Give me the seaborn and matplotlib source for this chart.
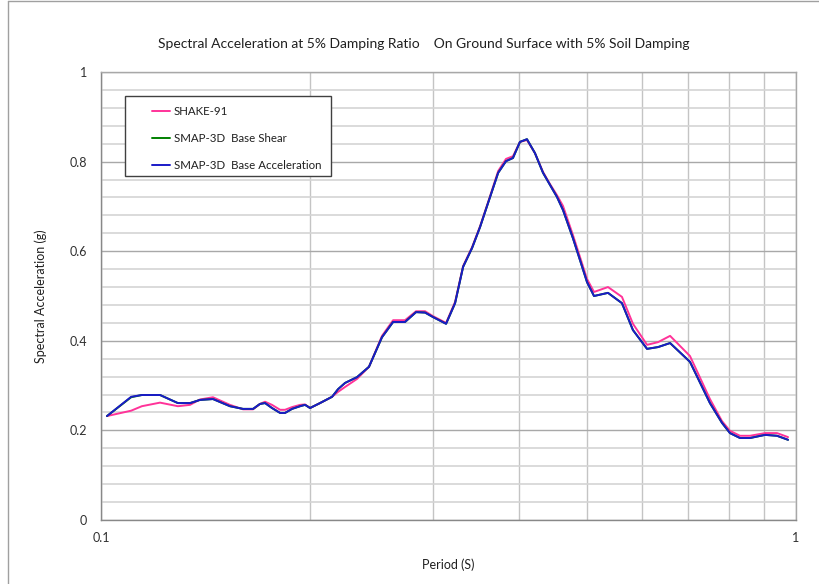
import numpy as np
import pandas as pd
import matplotlib
matplotlib.use("Agg")
import matplotlib.pyplot as plt
from matplotlib.lines import Line2D
from matplotlib.patches import Rectangle
from matplotlib.ticker import LogLocator, NullFormatter, FixedLocator
import seaborn as sns

# Periods (s) shared by all three response spectra
period = [0.102, 0.1105, 0.1145, 0.1216, 0.129, 0.1343, 0.1388, 0.1449, 0.1533, 0.1601,
          0.1655, 0.1693, 0.1722, 0.1762, 0.181, 0.184, 0.1883, 0.1934, 0.1966, 0.1999,
          0.2066, 0.215, 0.2193, 0.2245, 0.2336, 0.243, 0.2537, 0.2632, 0.2738, 0.284,
          0.2926, 0.3004, 0.3137, 0.3232, 0.3319, 0.3419, 0.3511, 0.3606, 0.3728, 0.3826,
          0.3915, 0.4007, 0.4101, 0.4211, 0.4325, 0.4426, 0.453, 0.4621, 0.4776, 0.4889,
          0.5004, 0.5121, 0.5364, 0.5618, 0.5826, 0.6105, 0.6332, 0.6589, 0.7038, 0.7519,
          0.7824, 0.8035, 0.8307, 0.8587, 0.9026, 0.939, 0.974]

# Spectral acceleration (g)
shake91 = [0.232, 0.244, 0.254, 0.262, 0.254, 0.257, 0.269, 0.274, 0.257, 0.247,
           0.247, 0.259, 0.264, 0.257, 0.246, 0.246, 0.252, 0.257, 0.258, 0.250,
           0.261, 0.275, 0.286, 0.297, 0.315, 0.342, 0.411, 0.446, 0.446, 0.466,
           0.466, 0.455, 0.440, 0.487, 0.567, 0.609, 0.656, 0.710, 0.779, 0.806,
           0.812, 0.844, 0.848, 0.819, 0.777, 0.750, 0.725, 0.701, 0.636, 0.587,
           0.538, 0.509, 0.520, 0.498, 0.438, 0.391, 0.397, 0.411, 0.366, 0.270,
           0.221, 0.199, 0.188, 0.188, 0.194, 0.194, 0.185]

smap_shear = [0.232, 0.274, 0.279, 0.279, 0.261, 0.261, 0.268, 0.270, 0.254, 0.248,
              0.248, 0.259, 0.261, 0.250, 0.239, 0.239, 0.248, 0.254, 0.257, 0.250,
              0.261, 0.275, 0.292, 0.306, 0.319, 0.342, 0.408, 0.442, 0.442, 0.464,
              0.463, 0.453, 0.438, 0.484, 0.565, 0.607, 0.654, 0.708, 0.775, 0.801,
              0.808, 0.844, 0.850, 0.819, 0.775, 0.748, 0.721, 0.692, 0.629, 0.580,
              0.531, 0.500, 0.507, 0.484, 0.424, 0.382, 0.386, 0.395, 0.353, 0.261,
              0.217, 0.194, 0.183, 0.183, 0.190, 0.188, 0.179]

smap_accel = [0.232, 0.275, 0.279, 0.279, 0.261, 0.261, 0.268, 0.270, 0.254, 0.248,
              0.248, 0.259, 0.261, 0.250, 0.239, 0.239, 0.248, 0.254, 0.257, 0.250,
              0.261, 0.275, 0.292, 0.306, 0.319, 0.342, 0.408, 0.442, 0.442, 0.464,
              0.463, 0.453, 0.438, 0.484, 0.565, 0.607, 0.654, 0.708, 0.775, 0.801,
              0.808, 0.844, 0.850, 0.819, 0.775, 0.748, 0.721, 0.692, 0.629, 0.580,
              0.531, 0.500, 0.507, 0.484, 0.424, 0.382, 0.386, 0.395, 0.353, 0.261,
              0.217, 0.194, 0.183, 0.183, 0.190, 0.188, 0.179]

series_names = ["SHAKE-91", "SMAP-3D  Base Shear", "SMAP-3D  Base Acceleration"]
series_colors = ["#FF3399", "#008000", "#1A1AC8"]

y_ticks = [0, 0.2, 0.4, 0.6, 0.8, 1.0]
y_tick_labels = ["0", "0.2", "0.4", "0.6", "0.8", "1"]
x_ticks = [0.1, 1.0]
x_tick_labels = ["0.1", "1"]

df = pd.concat([
    pd.DataFrame({"period": period, "sa": vals, "series": name})
    for name, vals in zip(series_names, [shake91, smap_shear, smap_accel])
], ignore_index=True)

sns.set_theme(style="white")
plt.rcParams["font.family"] = ["Lato", "DejaVu Sans"]

fig = plt.figure(figsize=(8.2, 5.84), dpi=100)
ax = fig.add_axes([101 / 820, 1 - 520 / 584, 695 / 820, 448 / 584])

sns.lineplot(data=df, x="period", y="sa", hue="series", hue_order=series_names,
             palette=dict(zip(series_names, series_colors)), sort=False,
             estimator=None, linewidth=1.4, legend=False, ax=ax, zorder=4)

ax.set_xscale("log")
ax.set_xlim(0.1, 1)

ax.xaxis.set_major_locator(FixedLocator(x_ticks))
ax.set_xticklabels(x_tick_labels)
ax.xaxis.set_minor_locator(LogLocator(base=10, subs=np.arange(2, 10)))
ax.xaxis.set_minor_formatter(NullFormatter())
ax.set_yticks(y_ticks)
ax.set_yticklabels(y_tick_labels)
ax.yaxis.set_minor_locator(FixedLocator(np.arange(0.04, 1.0, 0.04)))
ax.set_ylim(0, 1)

ax.grid(which="major", axis="y", color="#A8A8A8", linewidth=1.0)
ax.grid(which="minor", axis="y", color="#D4D4D4", linewidth=1.2)
ax.grid(which="minor", axis="x", color="#C4C4C4", linewidth=1.0)
ax.grid(which="major", axis="x", color="#A8A8A8", linewidth=1.0)
ax.set_axisbelow(True)

ax.tick_params(which="major", direction="out", length=4, width=0.8, color="#909090",
               labelsize=9, labelcolor="#303030", pad=6)
ax.tick_params(which="minor", length=0)
ax.tick_params(axis="x", pad=5)

for side in ["left", "bottom"]:
    ax.spines[side].set_color("#888888")
    ax.spines[side].set_linewidth(1.0)
for side in ["top", "right"]:
    ax.spines[side].set_color("#A8A8A8")
    ax.spines[side].set_linewidth(1.0)

ax.set_xlabel("Period (S)", fontsize=9, color="#202020")
ax.set_ylabel("Spectral Acceleration (g)", fontsize=9, color="#202020")
ax.xaxis.set_label_coords(0.5, -(558 - 520) / 448)
ax.yaxis.set_label_coords(-(101 - 47) / 695, 0.5)
fig.text(424 / 820, 1 - 44 / 584, "Spectral Acceleration at 5% Damping Ratio    On Ground Surface with 5% Soil Damping",
         ha="center", va="center", fontsize=10, color="#202020")

# Legend frame and entries
ax.add_patch(Rectangle((24 / 695, 344 / 448), 206 / 695, 80 / 448, transform=ax.transAxes,
                       facecolor="white", edgecolor="#404040", linewidth=1.0, zorder=5))
handles = [Line2D([], [], color=c, linewidth=1.4) for c in series_colors]
leg = ax.legend(handles, series_names, loc="upper left",
                bbox_to_anchor=(51 / 695, (520 - 106) / 448), frameon=False,
                fontsize=8.3, handlelength=1.6, handletextpad=0.3, labelspacing=1.4,
                borderpad=0, borderaxespad=0)
leg.set_zorder(6)
for t in leg.get_texts():
    t.set_color("#202020")

# Chart area outline
fig.add_artist(Line2D([8 / 820, 8 / 820], [0, 1 - 1 / 584], transform=fig.transFigure,
                      color="#A0A0A0", linewidth=1.0))
fig.add_artist(Line2D([8 / 820, 1], [1 - 1 / 584, 1 - 1 / 584], transform=fig.transFigure,
                      color="#A0A0A0", linewidth=1.0))

fig.savefig("out.png", dpi=100, facecolor="white")
